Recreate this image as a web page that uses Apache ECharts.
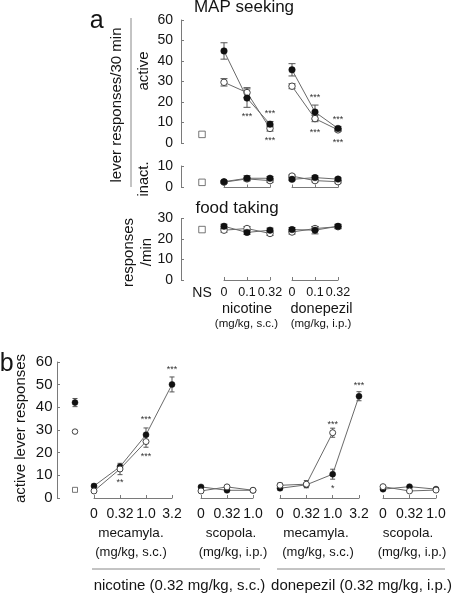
<!DOCTYPE html>
<html><head><meta charset="utf-8">
<script src="https://cdn.jsdelivr.net/npm/echarts@6/dist/echarts.min.js"></script>
<style>html,body{margin:0;padding:0;background:#fff}#c{width:452px;height:596px}</style>
</head><body><div id="c"></div>
<script>
// ===================== DATA =====================
// Panel a – tick labels
const aNSLabel = ['NS'];
const aDoseLabels = ['0', '0.1', '0.32'];
// MAP seeking – active lever (responses / 30 min)
const actNS = [4.2];
const actNicFilled = [44.9, 21.9, 9.2];
const actNicFilledErr = [4.0, 4.5, 1.3];
const actNicOpen = [29.6, 24.6, 7.1];
const actNicOpenErr = [1.8, 2.4, 1.3];
const actDonFilled = [35.7, 15.1, 7.1];
const actDonFilledErr = [3.0, 3.4, 1.0];
const actDonOpen = [27.7, 11.9, 6.4];
const actDonOpenErr = [1.2, 1.5, 0.8];
// MAP seeking – inactive lever
const inaNS = [2.4];
const inaNicFilled = [2.7, 4.3, 4.3];
const inaNicFilledErr = [0.6, 1.2, 0.8];
const inaNicOpen = [2.5, 4.0, 3.2];
const inaNicOpenErr = [0.5, 0.8, 0.8];
const inaDonFilled = [3.8, 4.6, 3.9];
const inaDonFilledErr = [0.6, 0.8, 0.6];
const inaDonOpen = [5.3, 3.2, 2.7];
const inaDonOpenErr = [0.6, 0.6, 0.6];
// food taking (responses / min)
const foodNS = [24.6];
const foodNicFilled = [26.2, 23.2, 24.3];
const foodNicFilledErr = [1.0, 1.0, 1.0];
const foodNicOpen = [24.3, 25.1, 22.7];
const foodNicOpenErr = [1.0, 1.0, 1.0];
const foodDonFilled = [24.6, 24.3, 26.2];
const foodDonFilledErr = [1.0, 1.8, 1.0];
const foodDonOpen = [23.4, 25.1, 26.0];
const foodDonOpenErr = [1.0, 1.0, 1.0];
// significance marks, panel a: [dose index, value, text]
const actNicStars = [[1, 13.9, '***'], [2, 15.6, '***'], [2, 2.3, '***']];
const actDonStars = [[1, 23.2, '***'], [1, 6.3, '***'], [2, 12.2, '***'], [2, 1.1, '***']];

// Panel b – tick labels
const bNSLabel = [''];
const bMecLabels = ['0', '0.32', '1.0', '3.2'];
const bScoLabels = ['0', '0.32', '1.0'];
// active lever responses
const bNSFilled = [42.1];
const bNSFilledErr = [1.8];
const bNSOpen = [29.3];
const bNSOpenErr = [0.6];
const bNSSquare = [3.6];
const bNicMecFilled = [5.3, 13.8, 27.9, 50.1];
const bNicMecFilledErr = [0.8, 0, 3.0, 3.3];
const bNicMecOpen = [3.1, 12.8, 24.9, null];
const bNicMecOpenErr = [0.6, 2.5, 2.5, 0];
const bNicScoFilled = [4.9, 3.4, 3.4];
const bNicScoFilledErr = [0.6, 0.6, 0.6];
const bNicScoOpen = [3.1, 4.9, 3.4];
const bNicScoOpenErr = [0.6, 0.6, 0.6];
const bDonMecFilled = [4.3, 5.8, 10.5, 44.9];
const bDonMecFilledErr = [0.8, 0.8, 2.2, 2.0];
const bDonMecOpen = [5.6, 6.1, 28.8, null];
const bDonMecOpenErr = [1.0, 1.6, 2.0, 0];
const bDonScoFilled = [3.9, 5.0, 3.9];
const bDonScoFilledErr = [0.6, 0.6, 0.6];
const bDonScoOpen = [5.0, 3.1, 3.5];
const bDonScoOpenErr = [0.6, 0.6, 0.6];
const bNicMecStars = [[1, 7.9, '**'], [2, 35.4, '***'], [2, 19.4, '***'], [3, 57.6, '***']];
const bDonMecStars = [[2, 33.2, '***'], [2, 4.9, '*'], [3, 50.5, '***']];

// ===================== CHART =====================
const FONT = '"Liberation Sans", Arial, Helvetica, sans-serif';
const AX = '#7a7a7a', TXT = '#141414', LN = '#6a6a6a', ERR = '#555', FILL = '#111', OPEN = '#444';

const grids = [], xAxis = [], yAxis = [], series = [];
function addGrid(left, top, width, height, xa, ya) {
  const gi = grids.length;
  grids.push({ left, top, width, height, containLabel: false, outerBoundsMode: 'none' });
  xa.gridIndex = gi; ya.gridIndex = gi;
  xAxis.push(xa); yAxis.push(ya);
  return gi;
}
function yAx(max, visible, fs, margin) {
  return {
    type: 'value', min: 0, max: max, interval: 10, show: visible,
    axisLine: { show: true, lineStyle: { color: AX, width: 1 } },
    axisTick: { show: true, inside: true, length: 3, lineStyle: { color: AX, width: 1 } },
    axisLabel: { show: true, color: TXT, fontSize: fs, fontFamily: FONT, margin: margin },
    splitLine: { show: false }
  };
}
function xAx(cats, gap, line, label, fs, margin) {
  return {
    type: 'category', data: cats, boundaryGap: gap, show: true,
    axisLine: { show: line, lineStyle: { color: AX, width: 1 } },
    axisTick: { show: line, inside: true, length: 3, interval: 0, lineStyle: { color: AX, width: 1 } },
    axisLabel: { show: label, interval: 0, color: TXT, fontSize: fs, fontFamily: FONT, margin: margin },
    splitLine: { show: false }
  };
}
function lineSeries(gi, data, filled, size, z) {
  return {
    type: 'line', xAxisIndex: gi, yAxisIndex: gi, data: data, symbol: 'circle', symbolSize: size,
    showSymbol: true, showAllSymbol: true, connectNulls: false, clip: false, silent: true, z: z,
    animation: false,
    lineStyle: { color: LN, width: 1 },
    itemStyle: filled ? { color: FILL, borderColor: FILL, borderWidth: 0.5 }
                      : { color: '#fff', borderColor: OPEN, borderWidth: 1 }
  };
}
function squareSeries(gi, data, size) {
  return {
    type: 'scatter', xAxisIndex: gi, yAxisIndex: gi, data: data.map((v, i) => [i, v]),
    symbol: 'rect', symbolSize: size, silent: true, z: 4, animation: false,
    itemStyle: { color: '#fff', borderColor: '#555', borderWidth: 1 }
  };
}
function errSeries(gi, vals, errs, capW) {
  const d = [];
  vals.forEach((v, i) => { if (v != null && errs[i] > 0) d.push([i, v, errs[i]]); });
  return {
    type: 'custom', xAxisIndex: gi, yAxisIndex: gi, data: d, silent: true, z: 2, animation: false,
    renderItem: function (params, api) {
      const x = api.value(0), y = api.value(1), e = api.value(2);
      const t = api.coord([x, y + e]), b = api.coord([x, y - e]);
      const st = { stroke: ERR, lineWidth: 1 };
      return { type: 'group', children: [
        { type: 'line', shape: { x1: t[0], y1: t[1], x2: b[0], y2: b[1] }, style: st },
        { type: 'line', shape: { x1: t[0] - capW / 2, y1: t[1], x2: t[0] + capW / 2, y2: t[1] }, style: st },
        { type: 'line', shape: { x1: b[0] - capW / 2, y1: b[1], x2: b[0] + capW / 2, y2: b[1] }, style: st }
      ]};
    }
  };
}
function starSeries(gi, stars) {
  return {
    type: 'custom', xAxisIndex: gi, yAxisIndex: gi, data: stars.map(s => [s[0], s[1]]),
    silent: true, z: 5, animation: false,
    renderItem: function (params, api) {
      const p = api.coord([api.value(0), api.value(1)]);
      return { type: 'text', x: p[0], y: p[1] + 2,
        style: { text: stars[params.dataIndex][2], fontSize: 9, fontFamily: FONT, fill: '#333',
                 align: 'center', verticalAlign: 'middle' } };
    }
  };
}
function addGroup(gi, f, fe, o, oe, size, capW, openOnTop) {
  series.push(errSeries(gi, o, oe, capW));
  series.push(errSeries(gi, f, fe, capW));
  series.push(lineSeries(gi, o, false, size, openOnTop ? 4 : 3));
  series.push(lineSeries(gi, f, true, size, openOnTop ? 3 : 4));
}

// ---- panel a ----
const colA = { ns: [181, 42], nic: [224, 46], don: [292, 46] };
function rowA(top, h, max, line, label, ns, nic, don, nicStars, donStars) {
  const g0 = addGrid(colA.ns[0], top, colA.ns[1], h,
    xAx(aNSLabel, true, false, label, 14, 6), yAx(max, true, 14, 8));
  series.push(squareSeries(g0, ns, 6.5));
  const g1 = addGrid(colA.nic[0], top, colA.nic[1], h,
    xAx(aDoseLabels, false, line, label, 12.5, 6), yAx(max, false, 14, 8));
  addGroup(g1, nic[0], nic[1], nic[2], nic[3], 6.5, 7, false);
  if (nicStars) series.push(starSeries(g1, nicStars));
  const g2 = addGrid(colA.don[0], top, colA.don[1], h,
    xAx(aDoseLabels, false, line, label, 12.5, 6), yAx(max, false, 14, 8));
  addGroup(g2, don[0], don[1], don[2], don[3], 6.5, 7, false);
  if (donStars) series.push(starSeries(g2, donStars));
}
rowA(20, 123, 60, false, false, actNS,
  [actNicFilled, actNicFilledErr, actNicOpen, actNicOpenErr],
  [actDonFilled, actDonFilledErr, actDonOpen, actDonOpenErr], actNicStars, actDonStars);
rowA(166, 21.5, 10, true, false, inaNS,
  [inaNicFilled, inaNicFilledErr, inaNicOpen, inaNicOpenErr],
  [inaDonFilled, inaDonFilledErr, inaDonOpen, inaDonOpenErr]);
rowA(218.5, 61.5, 30, true, true, foodNS,
  [foodNicFilled, foodNicFilledErr, foodNicOpen, foodNicOpenErr],
  [foodDonFilled, foodDonFilledErr, foodDonOpen, foodDonOpenErr]);

// ---- panel b ----
const bTop = 362, bH = 136;
const gb0 = addGrid(57, bTop, 36, bH, xAx(bNSLabel, true, false, false, 14, 9), yAx(60, true, 15, 4.5));
series.push(errSeries(gb0, bNSFilled, bNSFilledErr, 5));
series.push(errSeries(gb0, bNSOpen, bNSOpenErr, 5));
series.push(lineSeries(gb0, bNSOpen, false, 5.5, 3));
series.push(lineSeries(gb0, bNSFilled, true, 6, 4));
series.push(squareSeries(gb0, bNSSquare, 5));
const gb1 = addGrid(94, bTop, 78, bH, xAx(bMecLabels, false, true, true, 14, 9), yAx(60, false, 15, 4));
addGroup(gb1, bNicMecFilled, bNicMecFilledErr, bNicMecOpen, bNicMecOpenErr, 6, 5, true);
series.push(starSeries(gb1, bNicMecStars));
const gb2 = addGrid(201, bTop, 52, bH, xAx(bScoLabels, false, true, true, 14, 9), yAx(60, false, 15, 4));
addGroup(gb2, bNicScoFilled, bNicScoFilledErr, bNicScoOpen, bNicScoOpenErr, 6, 5, true);
const gb3 = addGrid(280, bTop, 79, bH, xAx(bMecLabels, false, true, true, 14, 9), yAx(60, false, 15, 4));
addGroup(gb3, bDonMecFilled, bDonMecFilledErr, bDonMecOpen, bDonMecOpenErr, 6, 5, true);
series.push(starSeries(gb3, bDonMecStars));
const gb4 = addGrid(383, bTop, 53, bH, xAx(bScoLabels, false, true, true, 14, 9), yAx(60, false, 15, 4));
addGroup(gb4, bDonScoFilled, bDonScoFilledErr, bDonScoOpen, bDonScoOpenErr, 6, 5, true);

// ---- texts & decorations ----
function txt(x, y, s, fs, rot, extra) {
  const o = { type: 'text', x: x, y: y, silent: true,
    style: Object.assign({ text: s, fontSize: fs, fontFamily: FONT, fill: TXT, align: 'center', verticalAlign: 'middle' }, extra || {}) };
  if (rot) o.rotation = Math.PI / 2;
  return o;
}
function hline(x1, x2, y) {
  return { type: 'line', silent: true, shape: { x1: x1, y1: y, x2: x2, y2: y }, style: { stroke: '#888', lineWidth: 1 } };
}
const graphic = [
  txt(96.7, 21.3, 'a', 25),
  txt(6.7, 364.6, 'b', 25),
  txt(244, 7.6, 'MAP seeking', 17),
  txt(237, 208.4, 'food taking', 17),
  txt(116.5, 105, 'lever responses/30 min', 15, true),
  { type: 'line', silent: true, shape: { x1: 131, y1: 18, x2: 131, y2: 187 }, style: { stroke: '#888', lineWidth: 1 } },
  txt(143.5, 71, 'active', 15, true),
  txt(144, 179, 'inact.', 14.6, true),
  txt(129.3, 252.5, 'responses', 15, true),
  txt(147, 252, '/min', 15, true),
  txt(247, 309, 'nicotine', 14.5),
  txt(246.5, 324, '(mg/kg, s.c.)', 11.5),
  txt(321.5, 309, 'donepezil', 14.5),
  txt(321, 324, '(mg/kg, i.p.)', 11.5),
  txt(20.8, 428.5, 'active lever responses', 15, true),
  txt(131, 533.5, 'mecamyla.', 13.5),
  txt(131, 552, '(mg/kg, s.c.)', 13),
  txt(231, 533.5, 'scopola.', 13.5),
  txt(233, 552, '(mg/kg, i.p.)', 13),
  txt(316, 533.5, 'mecamyla.', 13.5),
  txt(318, 552, '(mg/kg, s.c.)', 13),
  txt(408, 533.5, 'scopola.', 13.5),
  txt(412, 552, '(mg/kg, i.p.)', 13),
  hline(92, 260, 569),
  hline(277, 445, 569),
  txt(179.5, 585.5, 'nicotine (0.32 mg/kg, s.c.)', 15),
  txt(361.5, 585.5, 'donepezil (0.32 mg/kg, i.p.)', 15)
];

const chart = echarts.init(document.getElementById('c'), null, { renderer: 'canvas', width: 452, height: 596 });
chart.setOption({
  animation: false,
  backgroundColor: '#fff',
  textStyle: { fontFamily: FONT },
  grid: grids, xAxis: xAxis, yAxis: yAxis, series: series, graphic: graphic
});
</script>
</body></html>
